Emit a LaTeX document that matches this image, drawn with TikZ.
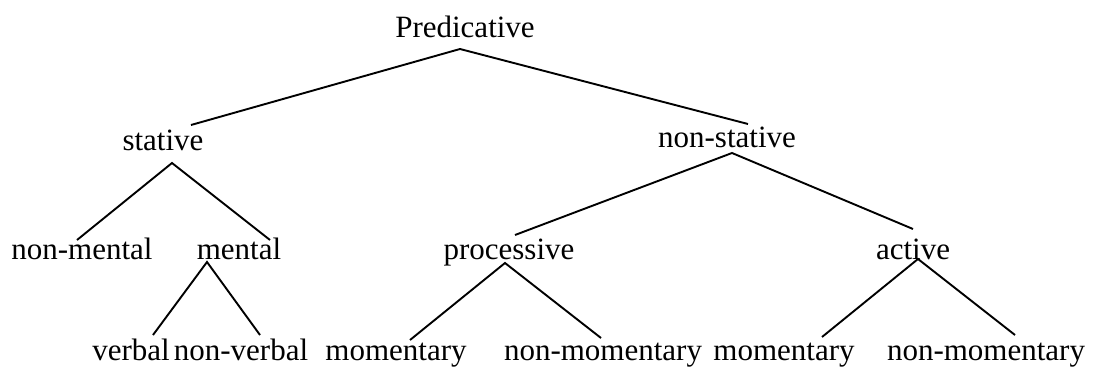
\documentclass[tikz,border=0pt]{standalone}
\usepackage{fontspec}
\setmainfont{Liberation Serif}
\begin{document}
\begin{tikzpicture}[x=1pt,y=-1pt,
  lbl/.style={anchor=base,inner sep=0pt,font=\fontsize{31}{36}\selectfont},
  branch/.style={line width=1.9pt,line join=miter}]
\useasboundingbox (0,0) rectangle (1093,372);
% labels
\node[lbl] (pred) at (465,37) {Predicative};
\node[lbl] (stat) at (163,150) {stative};
\node[lbl] (nstat) at (727,147) {non-stative};
\node[lbl] (nment) at (82,259) {non-mental};
\node[lbl] (ment) at (239,259) {mental};
\node[lbl] (proc) at (509,259) {processive};
\node[lbl] (act) at (913,259) {active};
\node[lbl] (verb) at (131,360) {verbal};
\node[lbl] (nverb) at (241,360) {non-verbal};
\node[lbl] (mom1) at (396,360) {momentary};
\node[lbl] (nmom1) at (603,360) {non-momentary};
\node[lbl] (mom2) at (784,360) {momentary};
\node[lbl] (nmom2) at (986,360) {non-momentary};
% branch points below parents
\coordinate (predB) at (460,49);
\coordinate (statB) at (172,163);
\coordinate (nstatB) at (732,153);
\coordinate (mentB) at (207,262);
\coordinate (procB) at (505,263);
\coordinate (actB) at (918,259);
% branch ends above children
\coordinate (statT) at (191,125);
\coordinate (nstatT) at (748,124);
\coordinate (nmentT) at (77,240);
\coordinate (mentT) at (270,240);
\coordinate (procT) at (515,235);
\coordinate (actT) at (913,229);
\coordinate (verbT) at (153,335);
\coordinate (nverbT) at (260,335);
\coordinate (mom1T) at (410,340);
\coordinate (nmom1T) at (601,338);
\coordinate (mom2T) at (822,337);
\coordinate (nmom2T) at (1015,335);
% branches
\draw[branch] (statT) -- (predB) -- (nstatT);
\draw[branch] (nmentT) -- (statB) -- (mentT);
\draw[branch] (procT) -- (nstatB) -- (actT);
\draw[branch] (verbT) -- (mentB) -- (nverbT);
\draw[branch] (mom1T) -- (procB) -- (nmom1T);
\draw[branch] (mom2T) -- (actB) -- (nmom2T);
\end{tikzpicture}
\end{document}
